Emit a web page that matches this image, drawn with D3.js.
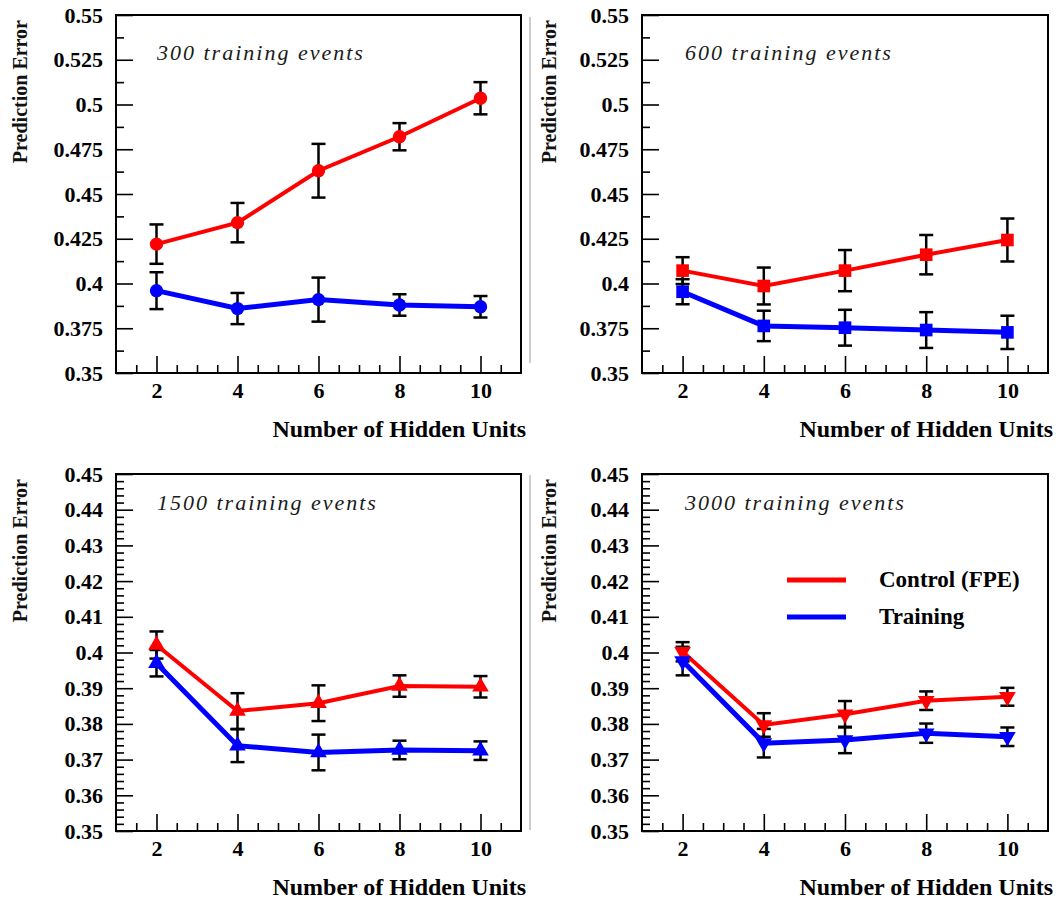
<!DOCTYPE html>
<html>
<head>
<meta charset="utf-8">
<script src="https://cdn.jsdelivr.net/npm/d3@7"></script>
<style>
  html, body { margin: 0; padding: 0; background: #fff; }
  svg { display: block; }
  text { font-family: "Liberation Serif", "Times New Roman", serif; }
</style>
</head>
<body>
<svg id="chart" width="1059" height="902"></svg>
<script>
// ---------------- data ----------------
const hiddenUnits = [2, 4, 6, 8, 10];
const panelTitles = ["300 training events", "600 training events", "1500 training events", "3000 training events"];
const seriesNames = ["Control (FPE)", "Training"];

// 300 training events
const control300 = [0.422, 0.434, 0.463, 0.482, 0.5035];
const controlErr300 = [0.011, 0.011, 0.015, 0.0076, 0.009];
const training300 = [0.396, 0.386, 0.391, 0.388, 0.387];
const trainingErr300 = [0.0103, 0.0087, 0.0123, 0.006, 0.006];

// 600 training events
const control600 = [0.4072, 0.3986, 0.4072, 0.4161, 0.4243];
const controlErr600 = [0.0075, 0.0103, 0.0115, 0.011, 0.012];
const training600 = [0.3954, 0.3763, 0.3753, 0.374, 0.3727];
const trainingErr600 = [0.007, 0.0085, 0.010, 0.010, 0.0093];

// 1500 training events
const control1500 = [0.4021, 0.3836, 0.3858, 0.3906, 0.3904];
const controlErr1500 = [0.0038, 0.005, 0.005, 0.003, 0.003];
const training1500 = [0.397, 0.3739, 0.372, 0.3727, 0.3725];
const trainingErr1500 = [0.0037, 0.0046, 0.005, 0.0026, 0.0026];

// 3000 training events
const control3000 = [0.4002, 0.3797, 0.3827, 0.3865, 0.3876];
const controlErr3000 = [0.0027, 0.0033, 0.0037, 0.0026, 0.0025];
const training3000 = [0.3976, 0.3746, 0.3755, 0.3774, 0.3764];
const trainingErr3000 = [0.004, 0.004, 0.0037, 0.0027, 0.0026];

// tick values / labels
const xTicks = [2, 4, 6, 8, 10];
const xMinorTicks = [1.5, 2.5, 3, 3.5, 4.5, 5, 5.5, 6.5, 7, 7.5, 8.5, 9, 9.5, 10.5];
const yTicksTop = [0.35, 0.375, 0.4, 0.425, 0.45, 0.475, 0.5, 0.525, 0.55];
const yTickLabelsTop = ["0.35", "0.375", "0.4", "0.425", "0.45", "0.475", "0.5", "0.525", "0.55"];
const yTicksBottom = [0.35, 0.36, 0.37, 0.38, 0.39, 0.4, 0.41, 0.42, 0.43, 0.44, 0.45];
const yTickLabelsBottom = ["0.35", "0.36", "0.37", "0.38", "0.39", "0.4", "0.41", "0.42", "0.43", "0.44", "0.45"];
const yDomainTop = [0.35, 0.55];
const yDomainBottom = [0.35, 0.45];
const xDomain = [1, 11];
const xTitle = "Number of Hidden Units";
const yTitle = "Prediction Error";

// ---------------- layout ----------------
const RED = "#ff0000", BLUE = "#0000ff";
const svg = d3.select("#chart");

const panels = [
  { x0: 116, x1: 521, y0: 15, y1: 373, title: panelTitles[0], titleX: 157, titleY: 60, top: true,
    c: control300, ce: controlErr300, t: training300, te: trainingErr300, marker: d3.symbolCircle, yLabX: 27, legend: false },
  { x0: 642, x1: 1048, y0: 15, y1: 373, title: panelTitles[1], titleX: 685, titleY: 60, top: true,
    c: control600, ce: controlErr600, t: training600, te: trainingErr600, marker: d3.symbolSquare, yLabX: 556, legend: false },
  { x0: 116, x1: 521, y0: 474, y1: 831, title: panelTitles[2], titleX: 157, titleY: 510, top: false,
    c: control1500, ce: controlErr1500, t: training1500, te: trainingErr1500, marker: d3.symbolTriangle, yLabX: 27, legend: false },
  { x0: 642, x1: 1048, y0: 474, y1: 831, title: panelTitles[3], titleX: 685, titleY: 510, top: false,
    c: control3000, ce: controlErr3000, t: training3000, te: trainingErr3000, marker: "down", yLabX: 556, legend: true }
];

// thin pane border lines on the right column
svg.append("line").attr("x1", 530).attr("x2", 530).attr("y1", 17).attr("y2", 363)
  .attr("stroke", "#999").attr("stroke-width", 1);
svg.append("line").attr("x1", 530).attr("x2", 530).attr("y1", 475).attr("y2", 830)
  .attr("stroke", "#999").attr("stroke-width", 1);

const downTriangle = {
  draw(context, size) {
    const s = Math.sqrt(size / (Math.sqrt(3) / 4));
    const h = s * Math.sqrt(3) / 2;
    context.moveTo(0, h * 2 / 3);
    context.lineTo(s / 2, -h / 3);
    context.lineTo(-s / 2, -h / 3);
    context.closePath();
  }
};

panels.forEach(p => {
  const g = svg.append("g");
  const x = d3.scaleLinear().domain(xDomain).range([p.x0, p.x1]);
  const y = d3.scaleLinear().domain(p.top ? yDomainTop : yDomainBottom).range([p.y1, p.y0]);
  const yT = p.top ? yTicksTop : yTicksBottom;
  const yL = p.top ? yTickLabelsTop : yTickLabelsBottom;
  const yDom = p.top ? yDomainTop : yDomainBottom;
  const minorStep = p.top ? 0.0125 : 0.002;
  const yMinor = d3.range(Math.round((yDom[1] - yDom[0]) / minorStep) + 1)
    .map(i => +(yDom[0] + i * minorStep).toFixed(5))
    .filter(v => !yT.some(t => Math.abs(t - v) < 1e-6));

  // minor y ticks
  g.append("g").attr("transform", `translate(${p.x0},0)`)
    .call(d3.axisLeft(y).tickValues(yMinor).tickSize(-8).tickFormat(""))
    .call(s => s.select(".domain").remove())
    .call(s => s.selectAll("line").attr("stroke", "#000").attr("stroke-width", 1.6));
  // major y ticks
  g.append("g").attr("transform", `translate(${p.x0},0)`)
    .call(d3.axisLeft(y).tickValues(yT).tickSize(-17).tickPadding(13).tickFormat((d, i) => yL[i]))
    .call(s => s.select(".domain").remove())
    .call(s => s.selectAll("line").attr("stroke", "#000").attr("stroke-width", 1.6))
    .call(s => s.selectAll("text").attr("font-size", 22).attr("font-weight", "bold")
      .attr("font-family", "'Liberation Serif', serif").attr("fill", "#000"));
  // minor x ticks
  g.append("g").attr("transform", `translate(0,${p.y1})`)
    .call(d3.axisBottom(x).tickValues(xMinorTicks).tickSize(-8).tickFormat(""))
    .call(s => s.select(".domain").remove())
    .call(s => s.selectAll("line").attr("stroke", "#000").attr("stroke-width", 1.6));
  // major x ticks
  g.append("g").attr("transform", `translate(0,${p.y1})`)
    .call(d3.axisBottom(x).tickValues(xTicks).tickSize(-17).tickPadding(9).tickFormat(d3.format("d")))
    .call(s => s.select(".domain").remove())
    .call(s => s.selectAll("line").attr("stroke", "#000").attr("stroke-width", 1.6))
    .call(s => s.selectAll("text").attr("font-size", 22).attr("font-weight", "bold")
      .attr("font-family", "'Liberation Serif', serif").attr("fill", "#000"));

  // frame
  g.append("rect").attr("x", p.x0).attr("y", p.y0)
    .attr("width", p.x1 - p.x0).attr("height", p.y1 - p.y0)
    .attr("fill", "none").attr("stroke", "#000").attr("stroke-width", 2);

  // titles
  g.append("text").attr("x", p.titleX).attr("y", p.titleY)
    .attr("font-size", 22).attr("font-style", "italic").attr("letter-spacing", 2)
    .attr("fill", "#1a1a1a").text(p.title);
  g.append("text")
    .attr("transform", `translate(${p.yLabX},${p.y0 + 5}) rotate(-90)`)
    .attr("text-anchor", "end").attr("font-size", 20).attr("font-weight", "bold")
    .attr("fill", "#111").text(yTitle);
  g.append("text").attr("x", p.x1 + 5).attr("y", p.y1 + 64)
    .attr("text-anchor", "end").attr("font-size", 24).attr("font-weight", "bold")
    .attr("fill", "#000").text(xTitle);

  const series = [
    { vals: p.c, errs: p.ce, color: RED, width: 4 },
    { vals: p.t, errs: p.te, color: BLUE, width: 5 }
  ];
  const symType = p.marker === "down" ? downTriangle : p.marker;
  const symSize = p.marker === d3.symbolCircle ? 140 : (p.marker === d3.symbolSquare ? 160 : 120);

  // error bars
  series.forEach(s => {
    const eg = g.append("g");
    hiddenUnits.forEach((h, i) => {
      const cx = x(h), top = y(s.vals[i] + s.errs[i]), bot = y(s.vals[i] - s.errs[i]);
      eg.append("line").attr("x1", cx).attr("x2", cx).attr("y1", top).attr("y2", bot)
        .attr("stroke", "#000").attr("stroke-width", 2.5);
      [top, bot].forEach(yy => eg.append("line").attr("x1", cx - 7).attr("x2", cx + 7)
        .attr("y1", yy).attr("y2", yy).attr("stroke", "#000").attr("stroke-width", 2.5));
    });
  });
  // lines and markers
  series.forEach(s => {
    const line = d3.line().x((d, i) => x(hiddenUnits[i])).y(d => y(d));
    g.append("path").datum(s.vals).attr("d", line).attr("fill", "none")
      .attr("stroke", s.color).attr("stroke-width", s.width);
    g.selectAll(null).data(s.vals).enter().append("path")
      .attr("transform", (d, i) => `translate(${x(hiddenUnits[i])},${y(d)})`)
      .attr("d", d3.symbol().type(symType).size(symSize))
      .attr("fill", s.color);
  });

  if (p.legend) {
    const items = [
      { name: seriesNames[0], color: RED, y: 580 },
      { name: seriesNames[1], color: BLUE, y: 617 }
    ];
    items.forEach(it => {
      g.append("line").attr("x1", 787).attr("x2", 846).attr("y1", it.y).attr("y2", it.y)
        .attr("stroke", it.color).attr("stroke-width", 5);
      g.append("text").attr("x", 879).attr("y", it.y + 7)
        .attr("font-size", 23).attr("font-weight", "bold").attr("fill", "#000").text(it.name);
    });
  }
});
</script>
</body>
</html>
